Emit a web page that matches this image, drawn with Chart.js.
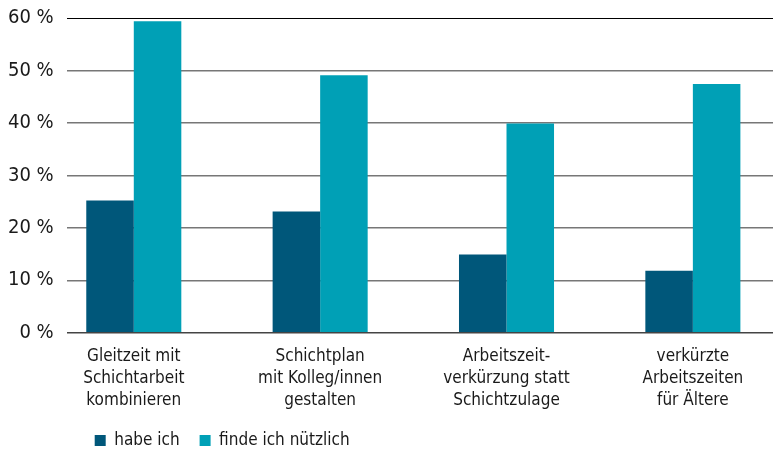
<!DOCTYPE html>
<html>
<head>
<meta charset="utf-8">
<script src="https://cdn.jsdelivr.net/npm/chart.js@4/dist/chart.umd.min.js"></script>
<style>
  html, body { margin: 0; padding: 0; background: #fff; }
  .chart-box { width: 773px; height: 451px; }
</style>
</head>
<body>
<div class="chart-box"><canvas id="chart" width="773" height="451"></canvas></div>
<script>
const categories = [
    ['Gleitzeit mit', 'Schichtarbeit', 'kombinieren'],
    ['Schichtplan', 'mit Kolleg/innen', 'gestalten'],
    ['Arbeitszeit-', 'verkürzung statt', 'Schichtzulage'],
    ['verkürzte', 'Arbeitszeiten', 'für Ältere']
];
const seriesNames = ['habe ich', 'finde ich nützlich'];
const habeIch = [25.2, 23.1, 14.9, 11.8];
const findeNuetzlich = [59.4, 49.1, 39.9, 47.4];
const yTicks = [0, 10, 20, 30, 40, 50, 60];

const FONT = "'Liberation Sans Narrow', 'DejaVu Sans Condensed', 'Roboto', sans-serif";

const toPoints = (values) => values.map((v, i) => ({ x: i, y: v }));

// legend sits a bit to the right of the plot's left edge
const legendShift = {
    id: 'legendShift',
    afterLayout(chart) {
        chart.legend.left += 8;
        chart.legend.right += 8;
    }
};

new Chart(document.getElementById('chart'), {
    type: 'bar',
    data: {
        datasets: [
            {
                label: seriesNames[0],
                data: toPoints(habeIch),
                backgroundColor: '#00577a'
            },
            {
                label: seriesNames[1],
                data: toPoints(findeNuetzlich),
                backgroundColor: '#00a0b6'
            }
        ]
    },
    options: {
        responsive: false,
        animation: false,
        layout: { padding: { top: 0, right: 0, left: -5, bottom: -8 } },
        datasets: {
            bar: { categoryPercentage: 0.51, barPercentage: 1 }
        },
        scales: {
            x: {
                type: 'linear',
                offset: false,
                min: -0.36,
                max: 3.43,
                afterBuildTicks: (scale) => {
                    scale.ticks = categories.map((c, i) => ({ value: i }));
                },
                afterFit: (scale) => {
                    scale.height -= 13;
                },
                grid: { display: false, drawTicks: false, offset: false },
                border: { display: false },
                ticks: {
                    autoSkip: false,
                    maxRotation: 0,
                    padding: 13,
                    color: '#1a1a1a',
                    font: { family: FONT, size: 17, lineHeight: 1.3 },
                    callback: (v) => categories[v]
                }
            },
            y: {
                min: 0,
                max: 60,
                afterBuildTicks: (scale) => {
                    scale.ticks = yTicks.map(v => ({ value: v }));
                },
                grid: {
                    drawTicks: false,
                    color: (ctx) => ctx.tick.value === 60 ? '#000' : (ctx.tick.value === 0 ? '#444' : '#777'),
                    lineWidth: (ctx) => ctx.tick.value === 60 ? 1 : 1.5
                },
                border: { display: false },
                ticks: {
                    padding: 13,
                    color: '#1a1a1a',
                    font: { family: FONT, size: 20, lineHeight: 0.5 },
                    callback: (v) => v + ' %'
                }
            }
        },
        plugins: {
            legend: {
                position: 'bottom',
                align: 'start',
                fullSize: false,
                labels: {
                    boxWidth: 11,
                    boxHeight: 11,
                    padding: 20,
                    color: '#1a1a1a',
                    font: { family: FONT, size: 17 }
                }
            },
            tooltip: { enabled: false }
        }
    },
    plugins: [legendShift]
});
</script>
</body>
</html>
